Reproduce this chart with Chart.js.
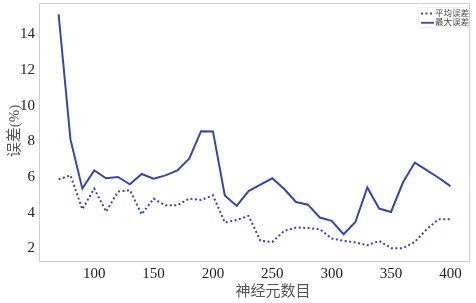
<!DOCTYPE html>
<html>
<head>
<meta charset="utf-8">
<script src="https://cdn.jsdelivr.net/npm/chart.js@4/dist/chart.umd.min.js"></script>
<style>
  html, body { margin: 0; padding: 0; background: #fff; }
  #wrap { width: 476px; height: 303px; }
</style>
</head>
<body>
<div id="wrap"><canvas id="errChart" width="476" height="303"></canvas></div>
<script>
// 神经元数目
var neurons = [70, 80, 90, 100, 110, 120, 130, 140, 150, 160, 170, 180, 190, 200, 210, 220, 230,
               240, 250, 260, 270, 280, 290, 300, 310, 320, 330, 340, 350, 360, 370, 380, 390, 400];
// 平均误差 (%)
var meanErr = [5.88, 6.1, 4.2, 5.36, 4.07, 5.19, 5.28, 3.92, 4.8, 4.42, 4.42, 4.8, 4.72, 4.98, 3.46, 3.6, 3.83,
               2.43, 2.37, 2.99, 3.18, 3.15, 3.08, 2.56, 2.43, 2.34, 2.18, 2.43, 2.02, 2.02, 2.37, 3.08, 3.64, 3.64];
// 最大误差 (%)
var maxErr = [15.14, 8.12, 5.36, 6.38, 5.94, 6.01, 5.6, 6.18, 5.92, 6.1, 6.38, 7.04, 8.58, 8.57, 4.98, 4.39, 5.22,
              5.58, 5.94, 5.34, 4.61, 4.46, 3.74, 3.55, 2.8, 3.49, 5.42, 4.24, 4.05, 5.7, 6.82, 6.4, 5.97, 5.5];

var xTicks = [100, 150, 200, 250, 300, 350, 400];
var yTicks = [2, 4, 6, 8, 10, 12, 14];

var lineColor = '#3448a6';
var serif = '"Liberation Serif", "Noto Sans CJK SC", serif';

function toPoints(xs, ys) {
    return xs.map(function (x, i) { return { x: x, y: ys[i] }; });
}

// frame, axis titles and legend inside the plot
var decorPlugin = {
    id: 'decor',
    afterDraw: function (chart) {
        var ctx = chart.ctx;
        var a = chart.chartArea;
        ctx.save();
        ctx.strokeStyle = '#cfcfcf';
        ctx.lineWidth = 1;
        ctx.strokeRect(Math.round(a.left) + 0.5, Math.round(a.top) + 0.5,
                       Math.round(a.right - a.left) - 1, Math.round(a.bottom - a.top));

        ctx.fillStyle = '#555';
        ctx.font = '15px ' + serif;
        ctx.textAlign = 'center';
        ctx.textBaseline = 'middle';
        ctx.fillText('神经元数目', 273, 292);

        ctx.save();
        ctx.translate(15, 131);
        ctx.rotate(-Math.PI / 2);
        ctx.fillText('误差(%)', 0, 0);
        ctx.restore();

        // legend
        var lx = 418, ly = 7, lw = 51, lh = 21;
        ctx.fillStyle = 'rgba(255,255,255,0.9)';
        ctx.fillRect(lx, ly, lw, lh);
        ctx.strokeStyle = '#eeeeee';
        ctx.strokeRect(lx + 0.5, ly + 0.5, lw - 1, lh - 1);
        ctx.font = '8.5px ' + serif;
        ctx.textAlign = 'left';
        chart.data.datasets.forEach(function (ds, i) {
            var y = ly + 6.5 + i * 9.3;
            ctx.strokeStyle = ds.borderColor;
            ctx.lineWidth = 1.8;
            ctx.setLineDash(ds.borderDash || []);
            ctx.beginPath();
            ctx.moveTo(lx + 3, y);
            ctx.lineTo(lx + 16, y);
            ctx.stroke();
            ctx.setLineDash([]);
            ctx.fillStyle = '#444';
            ctx.fillText(ds.label, lx + 17, y);
        });
        ctx.restore();
    }
};

new Chart(document.getElementById('errChart').getContext('2d'), {
    type: 'line',
    data: {
        datasets: [{
            label: '平均误差',
            data: toPoints(neurons, meanErr),
            borderColor: lineColor,
            borderWidth: 2,
            borderDash: [2, 2.5],
            pointRadius: 0,
            tension: 0,
            fill: false
        }, {
            label: '最大误差',
            data: toPoints(neurons, maxErr),
            borderColor: lineColor,
            borderWidth: 2,
            pointRadius: 0,
            tension: 0,
            fill: false
        }]
    },
    options: {
        responsive: false,
        animation: false,
        layout: { padding: { top: 3, right: 6, left: 0, bottom: 0 } },
        plugins: {
            legend: { display: false },
            tooltip: { enabled: false }
        },
        scales: {
            x: {
                type: 'linear',
                min: 53.5,
                max: 416.5,
                grid: { display: false, drawTicks: false },
                border: { display: false },
                afterBuildTicks: function (scale) {
                    scale.ticks = xTicks.map(function (v) { return { value: v }; });
                },
                afterFit: function (scale) {
                    scale.height = 42;
                    scale.paddingLeft = 0;
                    scale.paddingRight = 0;
                },
                ticks: {
                    padding: 4,
                    color: '#222',
                    maxRotation: 0,
                    autoSkip: false,
                    font: { family: serif, size: 15 }
                }
            },
            y: {
                type: 'linear',
                min: 1.3,
                max: 15.77,
                grid: { display: false, drawTicks: false },
                border: { display: false },
                afterBuildTicks: function (scale) {
                    scale.ticks = yTicks.map(function (v) { return { value: v }; });
                },
                afterFit: function (scale) {
                    scale.width = 39;
                    scale.paddingTop = 0;
                    scale.paddingBottom = 0;
                },
                ticks: {
                    padding: 4,
                    color: '#222',
                    autoSkip: false,
                    font: { family: serif, size: 15 }
                }
            }
        }
    },
    plugins: [decorPlugin]
});
</script>
</body>
</html>
